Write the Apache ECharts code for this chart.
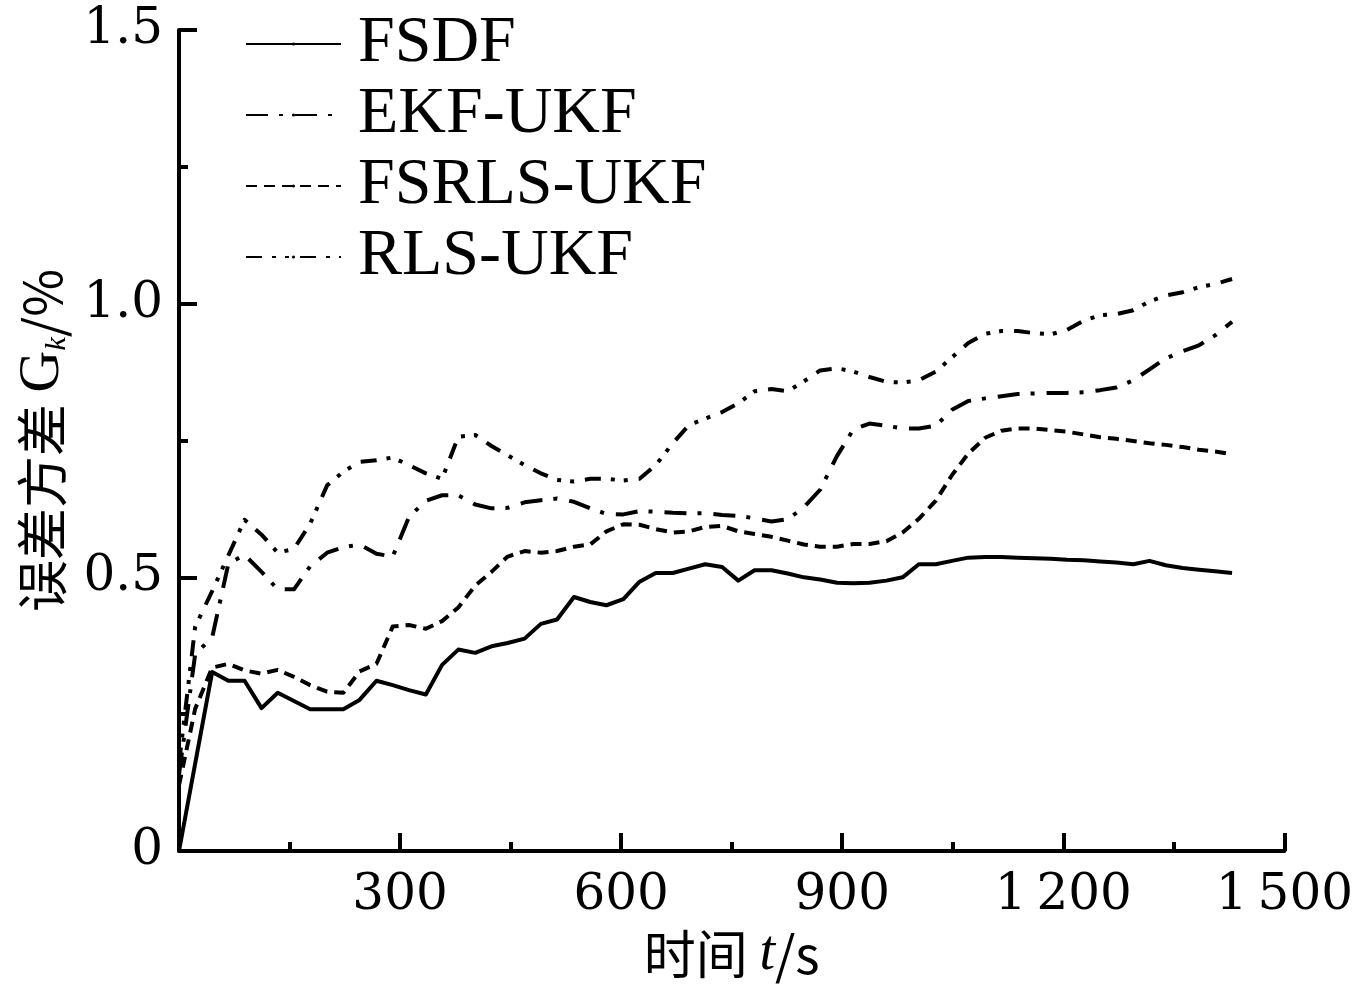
<!DOCTYPE html>
<html>
<head>
<meta charset="utf-8">
<script src="https://cdn.jsdelivr.net/npm/echarts@6/dist/echarts.min.js"></script>
<style>
html,body{margin:0;padding:0;background:#fff;overflow:hidden;}
#chart{width:1356px;height:987px;}
</style>
</head>
<body>
<div id="chart"></div>
<script>
const seriesNames = ['FSDF', 'EKF-UKF', 'FSRLS-UKF', 'RLS-UKF'];
const yTickLabels = ['0', '0.5', '1.0', '1.5'];
const xTickLabels = ['', '300', '600', '900', '1\u2009200', '1\u2009500'];

const times = [0, 22, 45, 67, 89, 112, 134, 156, 178, 201, 223, 245, 268, 290, 312, 335, 357, 379, 402, 424,
  446, 469, 491, 513, 536, 558, 580, 603, 625, 647, 670, 692, 714, 737, 759, 781, 804, 826, 848, 870,
  893, 915, 937, 960, 982, 1004, 1027, 1049, 1071, 1094, 1116, 1138, 1161, 1183, 1205, 1228, 1250, 1272, 1295, 1317,
  1339, 1362, 1384, 1406, 1429];

const fsdf = [0, 0.16, 0.327, 0.311, 0.311, 0.261, 0.289, 0.274, 0.259, 0.259, 0.259, 0.276, 0.311, 0.303, 0.294, 0.286, 0.340, 0.368, 0.362, 0.374,
  0.380, 0.388, 0.415, 0.423, 0.464, 0.455, 0.449, 0.460, 0.492, 0.508, 0.508, 0.516, 0.524, 0.519, 0.494, 0.513, 0.513, 0.507, 0.500, 0.496,
  0.490, 0.489, 0.490, 0.494, 0.500, 0.524, 0.524, 0.530, 0.536, 0.537, 0.537, 0.536, 0.535, 0.534, 0.532, 0.531, 0.529, 0.527, 0.524, 0.530,
  0.522, 0.517, 0.514, 0.511, 0.508];

const ekfUkf = [0.14, 0.36, 0.39, 0.525, 0.541, 0.510, 0.478, 0.478, 0.520, 0.545, 0.555, 0.560, 0.543, 0.538, 0.610, 0.640, 0.650, 0.650, 0.633, 0.626,
  0.627, 0.637, 0.641, 0.644, 0.638, 0.626, 0.616, 0.615, 0.621, 0.620, 0.618, 0.617, 0.617, 0.614, 0.612, 0.608, 0.602, 0.606, 0.628, 0.660,
  0.722, 0.770, 0.781, 0.777, 0.772, 0.772, 0.777, 0.806, 0.822, 0.827, 0.831, 0.835, 0.836, 0.837, 0.837, 0.838, 0.842, 0.847, 0.860, 0.880,
  0.900, 0.913, 0.924, 0.942, 0.967];

const fsrlsUkf = [0.12, 0.26, 0.335, 0.342, 0.330, 0.324, 0.331, 0.318, 0.303, 0.291, 0.289, 0.328, 0.342, 0.410, 0.413, 0.406, 0.420, 0.445, 0.485, 0.510,
  0.538, 0.548, 0.545, 0.548, 0.556, 0.560, 0.584, 0.597, 0.596, 0.588, 0.582, 0.584, 0.592, 0.594, 0.584, 0.579, 0.574, 0.567, 0.560, 0.556,
  0.556, 0.561, 0.561, 0.566, 0.582, 0.607, 0.640, 0.687, 0.726, 0.755, 0.768, 0.772, 0.772, 0.769, 0.766, 0.761, 0.756, 0.753, 0.749, 0.745,
  0.742, 0.738, 0.733, 0.730, 0.725];

const rlsUkf = [0.16, 0.41, 0.475, 0.540, 0.605, 0.578, 0.545, 0.552, 0.598, 0.668, 0.693, 0.711, 0.714, 0.719, 0.705, 0.690, 0.680, 0.757, 0.760, 0.740,
  0.723, 0.705, 0.690, 0.678, 0.675, 0.680, 0.680, 0.677, 0.680, 0.705, 0.745, 0.778, 0.790, 0.802, 0.818, 0.840, 0.844, 0.840, 0.858, 0.878,
  0.882, 0.876, 0.866, 0.857, 0.856, 0.860, 0.876, 0.902, 0.928, 0.945, 0.950, 0.950, 0.946, 0.944, 0.952, 0.969, 0.979, 0.981, 0.988, 1.004,
  1.015, 1.021, 1.030, 1.036, 1.045];

function pairs(arr) { return times.map((t, i) => [t, arr[i]]); }

const chart = echarts.init(document.getElementById('chart'), null, {renderer: 'canvas', width: 1356, height: 987});
const numFont = 'DejaVu Serif';
const lw = 4;
function mkSeries(name, arr, dash) {
  return {
    name: name, type: 'line', data: pairs(arr), symbol: 'none', smooth: false,
    lineStyle: {color: '#000', width: lw, type: dash, cap: 'butt', join: 'round'},
    itemStyle: {color: '#000'},
    emphasis: {disabled: true}, animation: false
  };
}
chart.setOption({
  backgroundColor: '#fff',
  animation: false,
  grid: {left: 179, right: 63, top: 30, bottom: 136, containLabel: false},
  legend: {
    orient: 'vertical', left: 240, top: 6, itemWidth: 95, itemHeight: 4, itemGap: 5,
    data: seriesNames,
    textStyle: {fontFamily: 'Liberation Serif', fontSize: 66, color: '#000', lineHeight: 64, padding: [0, 0, 0, 12]},
    selectedMode: false
  },
  xAxis: {
    type: 'value', min: 0, max: 1500, interval: 300,
    name: '时间 {it|t}/s', nameLocation: 'middle', nameGap: 74,
    nameTextStyle: {fontFamily: 'Noto Sans CJK SC', fontSize: 52, color: '#000',
      rich: {it: {fontFamily: 'Liberation Serif', fontStyle: 'italic', fontSize: 56, color: '#000'}}},
    axisLine: {show: true, onZero: false, lineStyle: {color: '#000', width: lw}},
    axisTick: {show: true, inside: true, length: 18, lineStyle: {color: '#000', width: lw}},
    minorTick: {show: true, splitNumber: 2, length: 9, lineStyle: {color: '#000', width: lw}},
    splitLine: {show: false},
    axisLabel: {margin: 20, fontFamily: numFont, fontSize: 50, color: '#000',
      formatter: (v) => xTickLabels[Math.round(v / 300)] }
  },
  yAxis: {
    type: 'value', min: 0, max: 1.5, interval: 0.5,
    name: '误差方差 {it|G}{sub|k}/%', nameLocation: 'middle', nameGap: 106, nameRotate: 90,
    nameTextStyle: {fontFamily: 'Noto Sans CJK SC', fontSize: 52, color: '#000',
      rich: {
        it: {fontFamily: 'Liberation Serif', fontSize: 58, color: '#000'},
        sub: {fontFamily: 'Liberation Serif', fontStyle: 'italic', fontSize: 30, color: '#000', verticalAlign: 'bottom', padding: [30, 0, 0, 0]}
      }},
    axisLine: {show: true, onZero: false, lineStyle: {color: '#000', width: lw}},
    axisTick: {show: true, inside: true, length: 18, lineStyle: {color: '#000', width: lw}},
    minorTick: {show: true, splitNumber: 2, length: 9, lineStyle: {color: '#000', width: lw}},
    splitLine: {show: false},
    axisLabel: {margin: 16, fontFamily: numFont, fontSize: 50, color: '#000',
      formatter: (v) => yTickLabels[Math.round(v / 0.5)] }
  },
  series: [
    mkSeries('FSDF', fsdf, 'solid'),
    mkSeries('EKF-UKF', ekfUkf, [22, 11, 4, 12]),
    mkSeries('FSRLS-UKF', fsrlsUkf, [11, 7]),
    mkSeries('RLS-UKF', rlsUkf, [16, 10, 4, 9, 4, 11])
  ]
});
</script>
</body>
</html>
